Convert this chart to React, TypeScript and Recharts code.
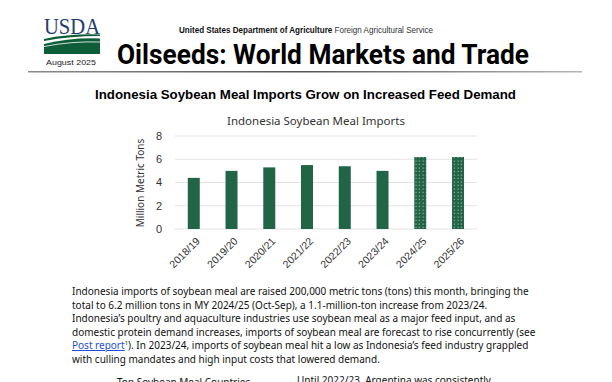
import React from 'react';
import { BarChart, Bar, XAxis, YAxis, CartesianGrid, Cell } from 'recharts';

const years = ['2018/19', '2019/20', '2020/21', '2021/22', '2022/23', '2023/24', '2024/25', '2025/26'];
const imports = [4.4, 5.0, 5.3, 5.5, 5.4, 5.0, 6.2, 6.2];
const forecast = [false, false, false, false, false, false, true, true];
const yTicks = [0, 2, 4, 6, 8];

const paragraph = [
  'Indonesia imports of soybean meal are raised 200,000 metric tons (tons) this month, bringing the',
  'total to 6.2 million tons in MY 2024/25 (Oct-Sep), a 1.1-million-ton increase from 2023/24.',
  'Indonesia\u2019s poultry and aquaculture industries use soybean meal as a major feed input, and as',
  'domestic protein demand increases, imports of soybean meal are forecast to rise concurrently (see',
];
const paragraphTail = [
  '). In 2023/24, imports of soybean meal hit a low as Indonesia\u2019s feed industry grappled',
  'with culling mandates and high input costs that lowered demand.',
];

const data = years.map((y, i) => ({ year: y, value: imports[i], forecast: forecast[i] }));

const GREEN = '#216446';
const ARIAL = '"Liberation Sans", Arial, sans-serif';
const BODY = '"Noto Sans", sans-serif';

function XTick(props: any) {
  const { x, y, payload } = props;
  return (
    <g transform={`translate(${x + 4},${y + 2})`}>
      <text x={0} y={0} dy={4} textAnchor="end" transform="rotate(-45)" fontSize={10.5} fill="#333" fontFamily={ARIAL}>
        {payload.value}
      </text>
    </g>
  );
}

function Header() {
  return (
    <svg width={612} height={80} style={{ position: 'absolute', left: 0, top: 0 }}>
      <defs>
        <linearGradient id="rule" x1="0" x2="1" y1="0" y2="0">
          <stop offset="0" stopColor="#8a8a8a" />
          <stop offset="0.5" stopColor="#555" />
          <stop offset="1" stopColor="#b5b5b5" />
        </linearGradient>
      </defs>
      {/* logo */}
      <text x={44} y={34} fontSize={23} fontFamily='"Liberation Serif", serif' fill="#1f3d6e" textLength={56} lengthAdjust="spacingAndGlyphs">USDA</text>
      <path d="M44,39 Q70,33.5 100,34.5 L100,36 Q70,36 44,41 Z" fill="#0e5c38" />
      <path d="M44,44 Q70,37.5 100,38.5 L100,44.5 Z" fill="#0e5c38" />
      <rect x={44} y={44} width={56} height={10} fill="#0e5c38" />
      <path d="M44,46.5 Q72,41 100,42" stroke="#fff" strokeWidth={0.8} fill="none" />
      <text x={46} y={65} fontSize={8} fontFamily={ARIAL} fill="#222" textLength={50} lengthAdjust="spacingAndGlyphs">August 2025</text>
      <text x={179} y={33} fontSize={8.5} fontFamily={ARIAL} fill="#111" textLength={254} lengthAdjust="spacingAndGlyphs">
        <tspan fontWeight={700}>United States Department of Agriculture</tspan>
        <tspan fill="#333"> Foreign Agricultural Service</tspan>
      </text>
      <text x={117} y={64} fontSize={27} fontWeight={700} fontFamily="Roboto, sans-serif" fill="#000" textLength={412} lengthAdjust="spacingAndGlyphs">
        Oilseeds: World Markets and Trade
      </text>
      <rect x={28} y={71} width={554} height={1.5} fill="url(#rule)" />
    </svg>
  );
}

export default function App() {
  return (
    <div style={{ position: 'absolute', left: 0, top: 0, width: 612, height: 382, overflow: 'hidden', background: '#fff' }}>
      <Header />
      <svg width={612} height={22} style={{ position: 'absolute', left: 0, top: 84 }}>
        <text x={95} y={15} fontSize={13} fontWeight={700} fontFamily={ARIAL} fill="#000" textLength={421} lengthAdjust="spacingAndGlyphs">
          Indonesia Soybean Meal Imports Grow on Increased Feed Demand
        </text>
      </svg>
      <div style={{ position: 'absolute', left: 216, top: 113, width: 200, textAlign: 'center', fontFamily: BODY, fontSize: 11.5, color: '#333', whiteSpace: 'nowrap' }}>
        Indonesia Soybean Meal Imports
      </div>
      <div style={{ position: 'absolute', left: 80, top: 176, width: 120, textAlign: 'center', fontFamily: BODY, fontSize: 10, color: '#333', whiteSpace: 'nowrap', transform: 'rotate(-90deg)' }}>
        Million Metric Tons
      </div>
      <div style={{ position: 'absolute', left: 120, top: 110 }}>
        <BarChart width={380} height={170} data={data} margin={{ top: 26, right: 23, bottom: 6, left: 25 }}>
          <defs>
            <pattern id="dots" width={3.5} height={3.5} patternUnits="userSpaceOnUse">
              <rect width={3.5} height={3.5} fill={GREEN} />
              <rect x={1.5} y={1.5} width={1} height={1} fill="#cfe3d6" />
            </pattern>
          </defs>
          <CartesianGrid vertical={false} stroke="#e3e3e3" />
          <XAxis dataKey="year" axisLine={false} tickLine={false} interval={0} height={45} tick={<XTick />} />
          <YAxis
            domain={[0, 8]}
            ticks={yTicks}
            width={30}
            axisLine={false}
            tickLine={false}
            tickMargin={7}
            tick={{ fontSize: 11, fill: '#333', fontFamily: ARIAL }}
          />
          <Bar dataKey="value" maxBarSize={12} isAnimationActive={false}>
            {data.map((d) => (
              <Cell key={d.year} fill={d.forecast ? 'url(#dots)' : GREEN} />
            ))}
          </Bar>
        </BarChart>
      </div>
      <div style={{ position: 'absolute', left: 72, top: 285, fontFamily: BODY, fontSize: 10, lineHeight: '13.6px', color: '#111', whiteSpace: 'nowrap' }}>
        {paragraph.map((l) => (
          <div key={l}>{l}</div>
        ))}
        <div>
          <span style={{ color: '#1f4fd8', textDecoration: 'underline' }}>Post report</span>
          <sup style={{ fontSize: 6, lineHeight: 0 }}>1</sup>
          {paragraphTail[0]}
        </div>
        <div>{paragraphTail[1]}</div>
      </div>
      <div style={{ position: 'absolute', left: 117, top: 375, fontFamily: BODY, fontSize: 10, color: '#111', whiteSpace: 'nowrap' }}>
        Top Soybean Meal Countries
      </div>
      <div style={{ position: 'absolute', left: 297, top: 373, fontFamily: BODY, fontSize: 10, color: '#111', whiteSpace: 'nowrap' }}>
        Until 2022/23, Argentina was consistently
      </div>
    </div>
  );
}
